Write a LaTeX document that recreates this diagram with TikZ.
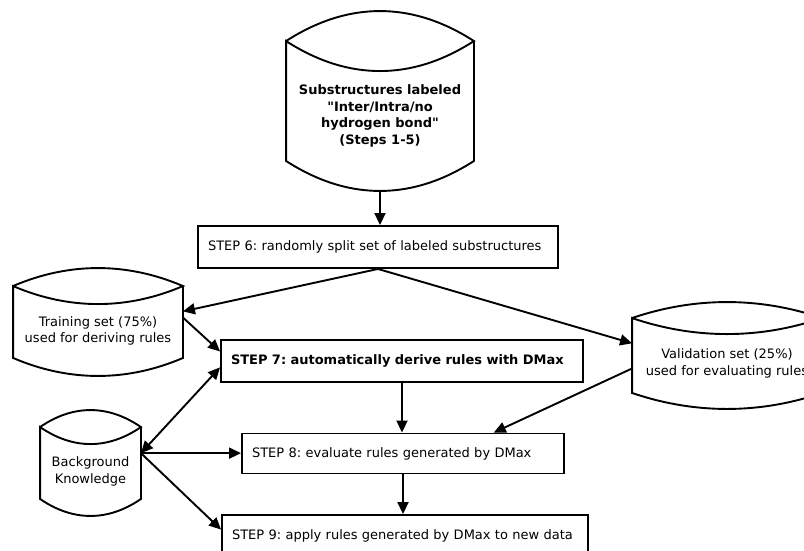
\documentclass[tikz,border=0pt]{standalone}
\usepackage{fontspec}
\setmainfont{DejaVu Sans}[Ligatures=TeXOff]
\usetikzlibrary{arrows.meta,calc,positioning}
\frenchspacing

% outline of a stored data set: name, width, lid height
\newcommand{\drawstore}[3]{%
  \coordinate (#1-c1) at ($(#1.north west)+(0,-#3)$);
  \coordinate (#1-c2) at ($(#1.north east)+(0,-#3)$);
  \coordinate (#1-bot) at ($(#1.south)+(0,#3)$);
  \draw[-] (#1-c1) .. controls +({#2/3},{-4*#3/3}) and +({-#2/3},{-4*#3/3}) .. (#1-c2)
    .. controls +({-#2/3},{4*#3/3}) and +({#2/3},{4*#3/3}) .. (#1-c1)
    -- (#1.south west) .. controls +({#2/3},{4*#3/3}) and +({-#2/3},{4*#3/3}) .. (#1.south east)
    -- (#1-c2);
}

\begin{document}
\begin{tikzpicture}[x=1pt,y=-1pt,->,>={Triangle[length=12pt,width=11pt]},line width=1.9pt,
    stepbox/.style={draw,rectangle,inner xsep=10pt,inner ysep=0pt,align=left,
      font=\fontsize{13}{16}\selectfont},
    store/.style={inner sep=0pt,align=center,font=\fontsize{13}{16.5}\selectfont}]

  \useasboundingbox (0,0) rectangle (804,550);

  \node[store,minimum width=186pt,minimum height=88pt,
        font=\fontsize{13}{16.5}\selectfont\bfseries] (sub) at (380,116)
        {Substructures labeled\\"Inter/Intra/no\\hydrogen bond"\\(Steps 1-5)};
  \node[stepbox,text width=340pt,minimum height=42pt] (step6) at (378,247)
        {STEP 6: randomly split set of labeled substructures};
  \node[store,minimum width=168pt,minimum height=52pt] (train) at (98,331)
        {Training set (75\%)\\used for deriving rules};
  \node[store,minimum width=188pt,minimum height=57pt] (valid) at (727,363.5)
        {Validation set (25\%)\\used for evaluating rules};
  \node[stepbox,text width=342pt,minimum height=42pt,
        font=\fontsize{13}{16}\selectfont\bfseries] (step7) at (402,361)
        {STEP 7: automatically derive rules with DMax};
  \node[store,minimum width=99pt,minimum height=53pt] (bg) at (90.5,471.5)
        {Background\\Knowledge};
  \node[stepbox,text width=302pt,minimum height=40pt] (step8) at (403,453.5)
        {STEP 8: evaluate rules generated by DMax};
  \node[stepbox,text width=346pt,minimum height=42pt] (step9) at (405,536)
        {STEP 9: apply rules generated by DMax to new data};

  \drawstore{sub}{186}{30}
  \drawstore{train}{168}{18}
  \drawstore{valid}{188}{16}
  \drawstore{bg}{99}{17}

  \path (sub-bot) edge (sub-bot |- step6.north)
        (step6.south) edge (train.13)
                      edge (valid.168)
        (train.9) edge (step7.177)
        (bg.20) edge[<->] (step7.182)
                edge (bg.20 -| step8.west)
                edge (step9.178)
        (valid.183) edge (step8.13)
        (step7.south) edge (step7.south |- step8.north)
        (step8.south) edge (step8.south |- step9.north);
\end{tikzpicture}
\end{document}
